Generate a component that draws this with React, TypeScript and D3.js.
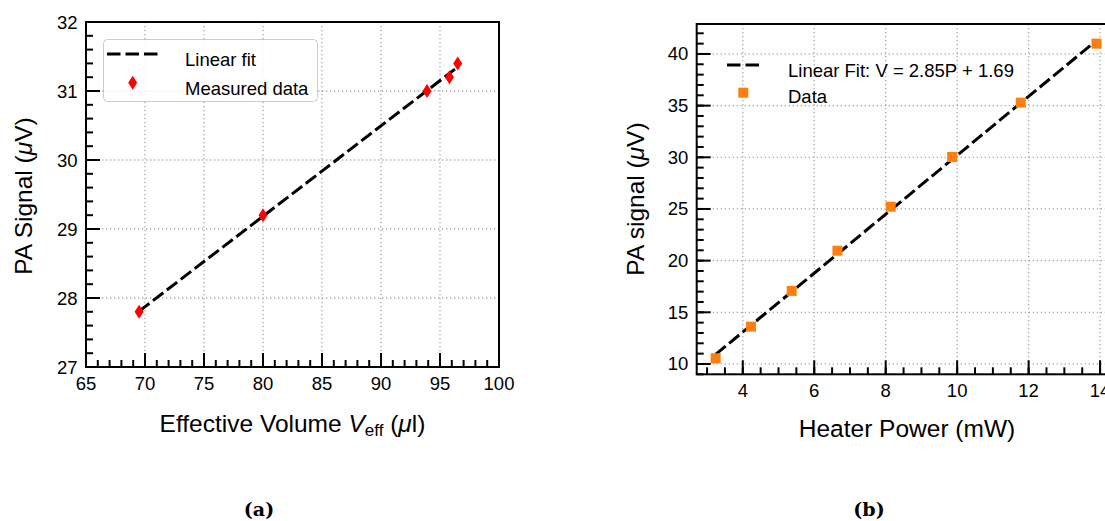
import React, { useEffect } from "react";
import * as d3 from "d3";

// ---------- data ----------
const volumeX = [69.5, 80.0, 93.9, 95.8, 96.5];
const signalA = [27.8, 29.2, 31.0, 31.2, 31.4];

const powerX = [3.24, 4.23, 5.37, 6.65, 8.14, 9.86, 11.78, 13.9];
const signalB = [10.55, 13.61, 17.07, 20.96, 25.22, 30.03, 35.29, 41.0];
const fitSlopeB = 2.85;
const fitInterceptB = 1.69;

const xTicksA = [65, 70, 75, 80, 85, 90, 95, 100];
const yTicksA = [27, 28, 29, 30, 31, 32];
const xTicksB = [4, 6, 8, 10, 12, 14];
const yTicksB = [10, 15, 20, 25, 30, 35, 40];

const FONT = "'Liberation Sans', Arial, Helvetica, sans-serif";
const GRID = "#a8a8a8";

function range(a: number, b: number, step: number) {
  const out: number[] = [];
  for (let v = a; v <= b + 1e-9; v += step) out.push(Math.round(v * 1000) / 1000);
  return out;
}

function linReg(xs: number[], ys: number[]) {
  const mx = d3.mean(xs)!;
  const my = d3.mean(ys)!;
  let sxy = 0, sxx = 0;
  xs.forEach((x, i) => {
    sxy += (x - mx) * (ys[i] - my);
    sxx += (x - mx) * (x - mx);
  });
  const m = sxy / sxx;
  return { m, b: my - m * mx };
}

export default function App() {
  useEffect(() => {
    document.body.style.margin = "0";
  }, []);

  // Panel A scales
  const xA = d3.scaleLinear().domain([65, 100]).range([86, 499]);
  const yA = d3.scaleLinear().domain([27, 32]).range([367, 22]);
  const fitA = linReg(volumeX, signalA);
  const x0A = d3.min(volumeX)!, x1A = d3.max(volumeX)!;
  const fitLineA = d3.line<number>().x((d) => xA(d)).y((d) => yA(fitA.m * d + fitA.b))([x0A, x1A]);

  // Panel B scales
  const xB = d3.scaleLinear().domain([2.71, 14.44]).range([696.7, 1115.8]);
  const yB = d3.scaleLinear().domain([9.0, 42.9]).range([374.3, 24]);
  const x0B = d3.min(powerX)!, x1B = d3.max(powerX)!;
  const fitLineB = d3.line<number>().x((d) => xB(d)).y((d) => yB(fitSlopeB * d + fitInterceptB))([x0B, x1B]);

  const minorXA = range(65, 100, 1);
  const minorYA = range(27, 32, 0.2);
  const minorXB = range(3, 14.4, 0.5);
  const minorYB = range(9, 42.9, 1);

  const diamond = (cx: number, cy: number) =>
    `M${cx},${cy - 7}L${cx + 4.5},${cy}L${cx},${cy + 7}L${cx - 4.5},${cy}Z`;

  const [ax0, ax1] = xA.range();
  const [ay0, ay1] = yA.range();
  const [bx0, bx1] = xB.range();
  const [by0, by1] = yB.range();

  const gridProps = { stroke: GRID, strokeWidth: 1.3, strokeDasharray: "1.3,2.7" };

  return (
    <svg width={1105} height={521} style={{ display: "block" }} fontFamily={FONT}>
      <rect x={0} y={0} width={1105} height={521} fill="#fff" />

      {/* ================= Panel A ================= */}
      <g>
        {xTicksA.slice(1, -1).map((t) => (
          <line key={"gxa" + t} x1={xA(t)} x2={xA(t)} y1={ay1} y2={ay0} {...gridProps} />
        ))}
        {yTicksA.slice(1, -1).map((t) => (
          <line key={"gya" + t} x1={ax0} x2={ax1} y1={yA(t)} y2={yA(t)} {...gridProps} />
        ))}
        <path d={fitLineA || ""} fill="none" stroke="#000" strokeWidth={3} strokeDasharray="13,4.5" />
        {volumeX.map((v, i) => (
          <path key={"da" + i} d={diamond(xA(v), yA(signalA[i]))} fill="#ff0000" />
        ))}
        {minorXA.map((t) => (
          <line key={"mxa" + t} x1={xA(t)} x2={xA(t)} y1={ay0} y2={ay0 - 7} stroke="#000" strokeWidth={2} />
        ))}
        {minorYA.map((t) => (
          <line key={"mya" + t} x1={ax0} x2={ax0 + 7} y1={yA(t)} y2={yA(t)} stroke="#000" strokeWidth={2} />
        ))}
        {xTicksA.map((t) => (
          <line key={"txa" + t} x1={xA(t)} x2={xA(t)} y1={ay0} y2={ay0 - 14} stroke="#000" strokeWidth={2} />
        ))}
        {yTicksA.map((t) => (
          <line key={"tya" + t} x1={ax0} x2={ax0 + 14} y1={yA(t)} y2={yA(t)} stroke="#000" strokeWidth={2} />
        ))}
        <rect x={ax0} y={ay1} width={ax1 - ax0} height={ay0 - ay1} fill="none" stroke="#000" strokeWidth={2} />
        {xTicksA.map((t) => (
          <text key={"lxa" + t} x={xA(t)} y={390} fontSize={18.5} textAnchor="middle" fill="#000">{t}</text>
        ))}
        {yTicksA.map((t) => (
          <text key={"lya" + t} x={77.5} y={yA(t) + 6.5} fontSize={18.5} textAnchor="end" fill="#000">{t}</text>
        ))}
        <text x={(ax0 + ax1) / 2} y={431.5} fontSize={24.5} textAnchor="middle" fill="#000">
          Effective Volume <tspan fontStyle="italic">V</tspan>
          <tspan fontSize={17} dy={4}>eff</tspan>
          <tspan dy={-4}> (</tspan>
          <tspan fontStyle="italic">μ</tspan>l)
        </text>
        <text transform={`translate(32,196) rotate(-90)`} fontSize={24.5} textAnchor="middle" fill="#000">
          PA Signal (<tspan fontStyle="italic">μ</tspan>V)
        </text>
        <rect x={103.5} y={39.5} width={214} height={62} rx={4} fill="#fff" fillOpacity={0.8} stroke="#cccccc" strokeWidth={1} />
        <line x1={107} x2={158} y1={54} y2={54} stroke="#000" strokeWidth={3} strokeDasharray="13.5,5" />
        <text x={185} y={66} fontSize={18.5} fill="#000">Linear fit</text>
        <path d={diamond(132.7, 82.7)} fill="#ff0000" />
        <text x={185} y={95} fontSize={18.5} fill="#000">Measured data</text>
      </g>

      {/* ================= Panel B ================= */}
      <g>
        {xTicksB.map((t) => (
          <line key={"gxb" + t} x1={xB(t)} x2={xB(t)} y1={by1} y2={by0} {...gridProps} />
        ))}
        {yTicksB.map((t) => (
          <line key={"gyb" + t} x1={bx0} x2={bx1} y1={yB(t)} y2={yB(t)} {...gridProps} />
        ))}
        <path d={fitLineB || ""} fill="none" stroke="#000" strokeWidth={3} strokeDasharray="13,4.5" />
        {powerX.map((p, i) => (
          <rect key={"db" + i} x={xB(p) - 5} y={yB(signalB[i]) - 5} width={10} height={10} fill="#ff7f0e" />
        ))}
        {minorXB.map((t) => (
          <line key={"mxb" + t} x1={xB(t)} x2={xB(t)} y1={by0} y2={by0 - 7} stroke="#000" strokeWidth={2} />
        ))}
        {minorYB.map((t) => (
          <line key={"myb" + t} x1={bx0} x2={bx0 + 7} y1={yB(t)} y2={yB(t)} stroke="#000" strokeWidth={2} />
        ))}
        {xTicksB.map((t) => (
          <line key={"txb" + t} x1={xB(t)} x2={xB(t)} y1={by0} y2={by0 - 14} stroke="#000" strokeWidth={2} />
        ))}
        {yTicksB.map((t) => (
          <line key={"tyb" + t} x1={bx0} x2={bx0 + 14} y1={yB(t)} y2={yB(t)} stroke="#000" strokeWidth={2} />
        ))}
        <rect x={bx0} y={by1} width={bx1 - bx0} height={by0 - by1} fill="none" stroke="#000" strokeWidth={2} />
        {xTicksB.map((t) => (
          <text key={"lxb" + t} x={xB(t)} y={397} fontSize={18.5} textAnchor="middle" fill="#000">{t}</text>
        ))}
        {yTicksB.map((t) => (
          <text key={"lyb" + t} x={688.3} y={yB(t) + 6.5} fontSize={18.5} textAnchor="end" fill="#000">{t}</text>
        ))}
        <text x={907} y={437} fontSize={24.5} textAnchor="middle" fill="#000">Heater Power (mW)</text>
        <text transform={`translate(644,199) rotate(-90)`} fontSize={24.5} textAnchor="middle" fill="#000">
          PA signal (<tspan fontStyle="italic">μ</tspan>V)
        </text>
        <line x1={727} x2={759} y1={65} y2={65} stroke="#000" strokeWidth={3} strokeDasharray="13.5,5" />
        <text x={788} y={76.7} fontSize={18.5} fill="#000">Linear Fit: V = 2.85P + 1.69</text>
        <rect x={738.3} y={87.7} width={10} height={10} fill="#ff7f0e" />
        <text x={788} y={103.3} fontSize={18.5} fill="#000">Data</text>
      </g>

      <text x={259} y={516} fontSize={19} fontWeight="bold" textAnchor="middle" fontFamily="'DejaVu Serif', serif" fill="#000">(a)</text>
      <text x={869} y={516} fontSize={19} fontWeight="bold" textAnchor="middle" fontFamily="'DejaVu Serif', serif" fill="#000">(b)</text>
    </svg>
  );
}
